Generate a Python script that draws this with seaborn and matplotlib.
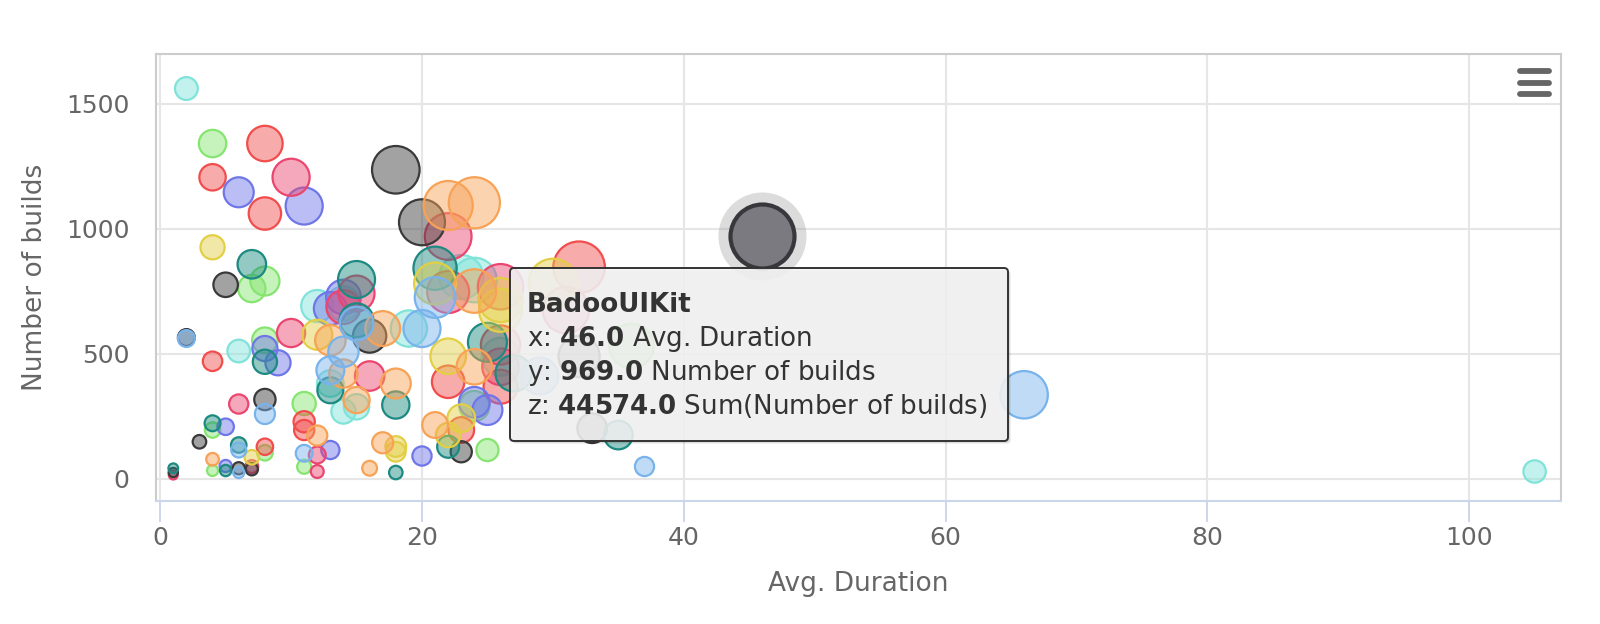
import numpy as np
import pandas as pd
import matplotlib
matplotlib.use("Agg")
import matplotlib.pyplot as plt
import seaborn as sns
from matplotlib.colors import to_rgba
from matplotlib.patches import FancyBboxPatch
from matplotlib.lines import Line2D
from matplotlib.transforms import IdentityTransform

# ---------------- data ----------------
cyan_x = [2, 6, 12, 14, 15, 13, 19, 23, 24, 26, 14, 105]
cyan_y = [1560, 510, 690, 268, 287, 380, 600, 806, 794, 487, 700, 28]
cyan_z = [3120, 3060, 8280, 3750, 4300, 4940, 11400, 18540, 19060, 12660, 9800, 2940]

green_x = [4, 7, 8, 8, 11, 4, 8, 4, 11, 24, 25, 36]
green_y = [1340, 760, 790, 553, 300, 194, 103, 32, 47, 290, 114, 530]
green_z = [5360, 5320, 6320, 4420, 3300, 780, 820, 130, 520, 6960, 2850, 19080]

red_x = [8, 4, 8, 4, 11, 11, 8, 22, 32, 26, 26, 23]
red_y = [1340, 1205, 1060, 469, 227, 194, 127, 387, 845, 534, 367, 194]
red_z = [10720, 4820, 8480, 1880, 2500, 2130, 1020, 8510, 27040, 13880, 9540, 4460]

blue_x = [6, 11, 8, 9, 5, 13, 5, 20, 24, 25, 14, 13]
blue_y = [1145, 1090, 520, 463, 207, 114, 50, 90, 305, 274, 726, 680]
blue_z = [6870, 11990, 4160, 4170, 1035, 1480, 250, 1800, 7320, 6850, 10160, 8840]

pink_x = [10, 22, 10, 15, 14, 16, 6, 12, 12, 7, 1, 26, 26, 22, 31]
pink_y = [1205, 968, 582, 740, 686, 410, 298, 94, 28, 48, 14, 767, 447, 746, 674]
pink_z = [12050, 21300, 5820, 11100, 9600, 6560, 1790, 1130, 340, 340, 14, 19940, 11620, 16410, 20890]

black_x = [18, 20, 5, 2, 8, 16, 3, 6, 7, 1, 23, 33, 32, 46]
black_y = [1235, 1025, 775, 564, 316, 570, 147, 41, 37, 24, 107, 201, 488, 969]
black_z = [22230, 20500, 3870, 1130, 2530, 9120, 440, 250, 260, 24, 2460, 6630, 15620, 44574]

teal_x = [7, 15, 21, 15, 8, 13, 18, 4, 6, 5, 1, 18, 22, 25, 27, 35]
teal_y = [857, 796, 841, 633, 467, 353, 294, 221, 134, 32, 41, 24, 127, 545, 421, 174]
teal_z = [6000, 11940, 17660, 9500, 3740, 4590, 5290, 880, 800, 160, 41, 430, 2790, 13600, 11370, 6090]

yellow_x = [4, 12, 21, 22, 26, 26, 7, 18, 18, 22, 23, 30]
yellow_y = [925, 575, 780, 489, 714, 673, 85, 128, 107, 174, 241, 782]
yellow_z = [3700, 6900, 16380, 10760, 18560, 17500, 600, 2300, 1930, 3830, 5540, 23460]

orange_x = [22, 24, 13, 17, 14, 18, 15, 12, 4, 17, 16, 24, 21, 24]
orange_y = [1092, 1103, 553, 600, 420, 380, 314, 172, 77, 143, 41, 447, 214, 750]
orange_z = [24020, 26470, 7190, 10200, 5880, 6840, 4710, 2060, 310, 2430, 660, 10730, 4490, 18000]

lightblue_x = [21, 15, 20, 14, 13, 8, 11, 6, 6, 2, 29, 37, 66]
lightblue_y = [724, 620, 600, 507, 433, 258, 101, 114, 24, 560, 410, 48, 335]
lightblue_z = [15200, 9300, 12000, 7100, 5630, 2060, 1110, 690, 140, 1120, 11890, 1780, 22110]

series_names = ["cyan", "green", "red", "blue", "pink", "black",
                "teal", "yellow", "orange", "lightblue"]
series_colors = {"cyan": "#80e3d9", "green": "#86e570", "red": "#f24d4d",
                 "blue": "#6f76e8", "pink": "#ea4670", "black": "#3a3a3a",
                 "teal": "#1d8a81", "yellow": "#e3cf45", "orange": "#f7a256",
                 "lightblue": "#78b3ec"}
series_data = {"cyan": (cyan_x, cyan_y, cyan_z), "green": (green_x, green_y, green_z),
               "red": (red_x, red_y, red_z), "blue": (blue_x, blue_y, blue_z),
               "pink": (pink_x, pink_y, pink_z), "black": (black_x, black_y, black_z),
               "teal": (teal_x, teal_y, teal_z), "yellow": (yellow_x, yellow_y, yellow_z),
               "orange": (orange_x, orange_y, orange_z),
               "lightblue": (lightblue_x, lightblue_y, lightblue_z)}

tip_name = "BadooUIKit"
tip_x, tip_y, tip_z = 46.0, 969.0, 44574.0
x_ticks = [0, 20, 40, 60, 80, 100]
y_ticks = [0, 500, 1000, 1500]

# ---------------- build frame ----------------
rows = []
for name in series_names:
    xs, ys, zs = series_data[name]
    for a, b, c in zip(xs, ys, zs):
        rows.append({"series": name, "dur": a, "builds": b, "sum": c})
df = pd.DataFrame(rows)

z_max = df["sum"].max()
D_MIN, D_MAX = 8.0, 64.0  # bubble diameters in pixels (size scale)
df["diam_px"] = D_MIN + np.sqrt(df["sum"] / z_max) * (D_MAX - D_MIN)
df["s"] = (df["diam_px"] * 0.72) ** 2

# ---------------- figure ----------------
sns.set_theme(style="white")
plt.rcParams["font.family"] = ["DejaVu Sans"]

fig = plt.figure(figsize=(16, 6.24), dpi=100)
fig.patch.set_facecolor("white")
ax = fig.add_axes([0.0975, 0.1971, 0.878, 0.7163])
ax.set_facecolor("white")

for i, name in enumerate(series_names):
    sub = df[df["series"] == name]
    col = series_colors[name]
    sns.scatterplot(data=sub, x="dur", y="builds", s=sub["s"].values, color=col,
                    edgecolor=col, linewidth=1.6, ax=ax, legend=False, zorder=3 + i * 0.01)
    coll = ax.collections[-1]
    coll.set_facecolor(to_rgba(col, 0.47))
    coll.set_edgecolor(to_rgba(col, 1.0))

# hovered bubble: halo + highlighted marker
hl = df[(df["dur"] == tip_x) & (df["builds"] == tip_y)]
hd = hl["diam_px"].values[0]
sns.scatterplot(x=hl["dur"], y=hl["builds"], s=((hd + 24) * 0.72) ** 2,
                color="#8c8c8c", alpha=0.3, linewidth=0, ax=ax, legend=False, zorder=5)
sns.scatterplot(x=hl["dur"], y=hl["builds"], s=(hd * 0.72) ** 2,
                color="#7a7a80", edgecolor="#38383c", linewidth=3.0, ax=ax,
                legend=False, zorder=5.1)

ax.set_xlim(-0.32, 107.0)
ax.set_ylim(-90, 1698)
ax.set_xticks(x_ticks)
ax.set_yticks(y_ticks)
ax.grid(True, color="#e6e6e6", linewidth=1.5, zorder=0)
ax.set_axisbelow(True)

for side in ["left", "top", "right"]:
    ax.spines[side].set_color("#cccccc")
    ax.spines[side].set_linewidth(1.5)
ax.spines["bottom"].set_color("#ccd6eb")
ax.spines["bottom"].set_linewidth(1.5)

ax.tick_params(axis="x", length=15, width=1.4, color="#ccd6eb", pad=3,
               labelsize=18, labelcolor="#666666", bottom=True)
ax.tick_params(axis="y", length=0, pad=19, labelsize=18, labelcolor="#666666", left=True)

ax.set_xlabel("Avg. Duration", fontsize=19, color="#666666", labelpad=15)
ax.set_ylabel("Number of builds", fontsize=19, color="#666666", labelpad=13)

# ---------------- context menu icon ----------------
idt = IdentityTransform()
fig.add_artist(FancyBboxPatch((1505, 521), 54, 47,
                              boxstyle="round,pad=0,rounding_size=4",
                              facecolor="white", edgecolor="none", transform=idt, zorder=10))
for yy in [552.6, 541.1, 529.7]:
    fig.add_artist(Line2D([1520, 1549], [yy, yy], color="#666666", linewidth=4.2,
                          solid_capstyle="round", transform=idt, zorder=11))

# ---------------- tooltip ----------------
bx, by, bw, bh = 510, 183, 498, 173
for off, a in [(3, 0.06), (2, 0.08), (1, 0.1)]:
    fig.add_artist(FancyBboxPatch((bx + off, by - off), bw, bh,
                                  boxstyle="round,pad=0,rounding_size=4",
                                  facecolor=(0, 0, 0, a), edgecolor="none",
                                  transform=idt, zorder=19))
fig.add_artist(FancyBboxPatch((bx, by), bw, bh, boxstyle="round,pad=0,rounding_size=4",
                              facecolor=to_rgba("#f8f8f8", 0.86), edgecolor="#333333",
                              linewidth=1.4, transform=idt, zorder=20))

tx = 527
fs = 18.8
fig.text(tx, 312, tip_name, transform=idt, fontsize=fs, fontweight="bold",
         color="#333333", zorder=21)
fig.text(tx, 278, r"x: $\mathbf{%.1f}$ Avg. Duration" % tip_x, transform=idt,
         fontsize=fs, color="#333333", zorder=21)
fig.text(tx, 244, r"y: $\mathbf{%.1f}$ Number of builds" % tip_y, transform=idt,
         fontsize=fs, color="#333333", zorder=21)
fig.text(tx, 210, r"z: $\mathbf{%.1f}$ Sum(Number of builds)" % tip_z, transform=idt,
         fontsize=fs, color="#333333", zorder=21)

fig.savefig("out.png", dpi=100, facecolor="white")
